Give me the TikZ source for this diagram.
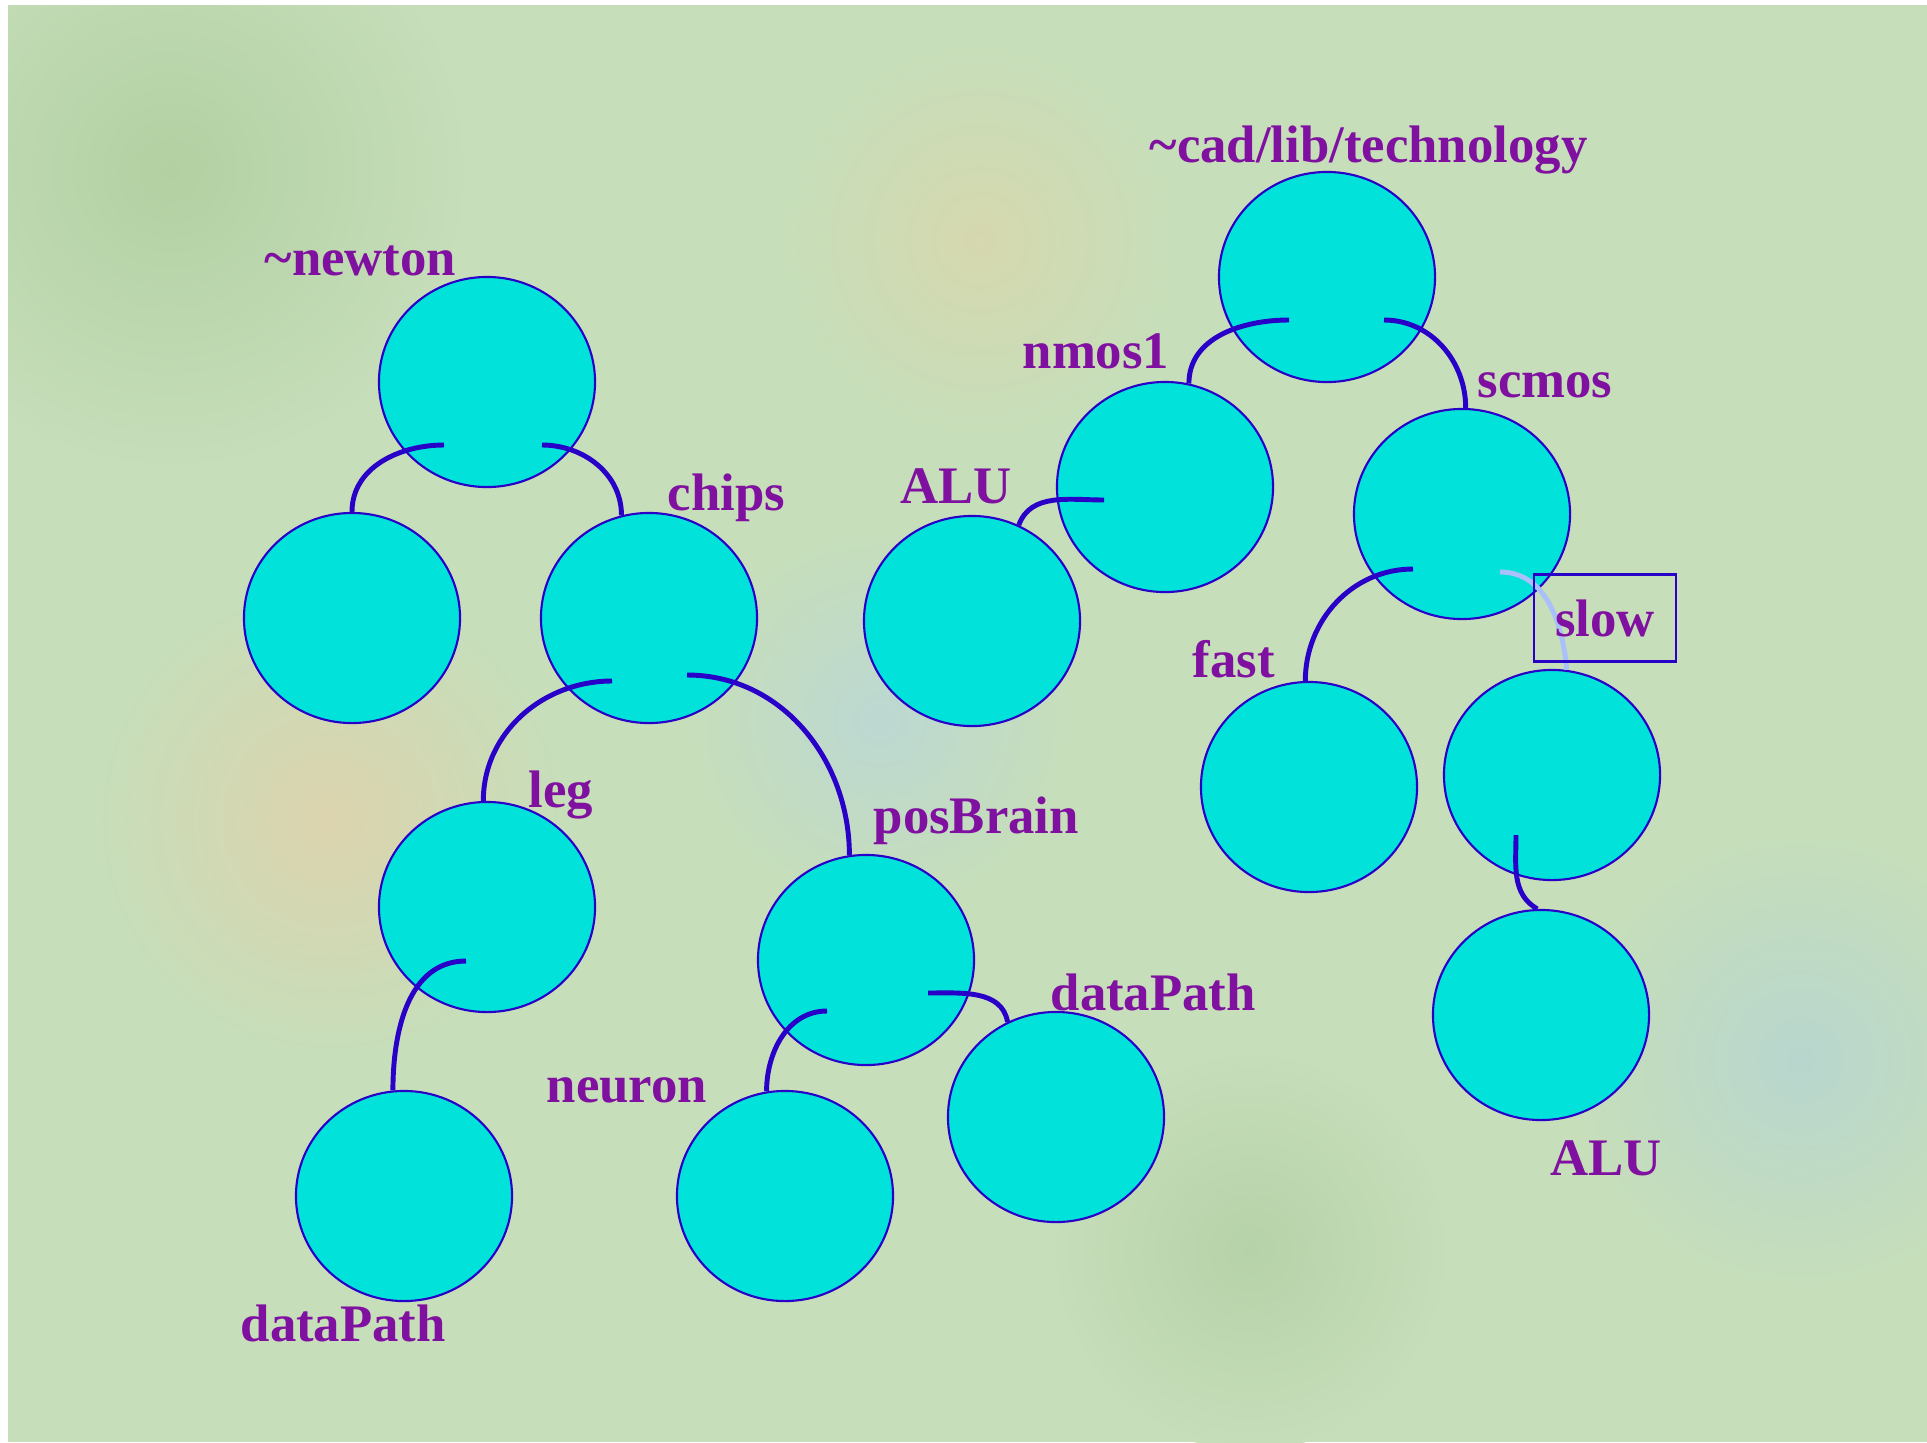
\documentclass[tikz,border=0pt]{standalone}
\usepackage{fontspec}
\setmainfont{Liberation Serif}
\usetikzlibrary{shapes.geometric}
\definecolor{dircyan}{RGB}{0,226,218}
\definecolor{dirblue}{RGB}{40,0,200}
\definecolor{lblpurple}{RGB}{128,16,160}
\definecolor{paleblue}{RGB}{170,192,250}
\definecolor{bggreen}{RGB}{198,222,186}
\begin{document}
\begin{tikzpicture}[x=0.01cm, y=-0.01cm,
  dir/.style={ellipse, draw=dirblue, fill=dircyan, line width=0.6pt,
              minimum width=2.16cm, minimum height=2.10cm, inner sep=0pt},
  link/.style={draw=dirblue, line width=1.4pt},
  lbl/.style={anchor=base west, text=lblpurple, inner sep=0pt,
              font=\fontsize{15}{18}\selectfont\bfseries}]
\useasboundingbox (0,0) rectangle (1927,1442);
% background
\fill[bggreen] (8,5) rectangle (1927,1442);
\begin{scope}
\clip (8,5) rectangle (1927,1442);
\shade[inner color={rgb,255:red,178;green,208;blue,162}, outer color=bggreen] (170,170) circle (300);
\shade[inner color={rgb,255:red,220;green,212;blue,174}, outer color=bggreen] (330,820) circle (240);
\shade[inner color={rgb,255:red,214;green,216;blue,174}, outer color=bggreen] (980,240) circle (200);
\shade[inner color={rgb,255:red,188;green,216;blue,210}, outer color=bggreen] (880,720) circle (190);
\shade[inner color={rgb,255:red,184;green,214;blue,206}, outer color=bggreen] (1800,1060) circle (230);
\shade[inner color={rgb,255:red,182;green,210;blue,168}, outer color=bggreen] (1250,1250) circle (200);
\end{scope}
% ~newton tree
\node[dir] (newton)  at (487,382)  {};
\node[dir] (other)   at (352,618)  {};
\node[dir] (chips)   at (649,618)  {};
\node[dir] (leg)     at (487,907)  {};
\node[dir] (legdp)   at (404,1196) {};
\node[dir] (brain)   at (866,960)  {};
\node[dir] (neuron)  at (785,1196) {};
\node[dir] (braindp) at (1056,1117){};
% ~cad tree
\node[dir] (cad)     at (1327,277) {};
\node[dir] (nmos)    at (1165,487) {};
\node[dir] (nalu)    at (972,621)  {};
\node[dir] (scmos)   at (1462,514) {};
\node[dir] (fast)    at (1309,787) {};
\node[dir] (slow)    at (1552,775) {};
\node[dir] (salu)    at (1541,1015){};
% links
\draw[link] ([shift={(-43,63)}]newton.center) to[out=180,in=90]  (other.north);
\draw[link] ([shift={(55,63)}]newton.center)  to[out=0,in=90]    (chips.105);
\draw[link] ([shift={(-37,63)}]chips.center)  to[out=180,in=90]  (leg.92);
\draw[link] ([shift={(38,57)}]chips.center)   to[out=0,in=90]    (brain.99);
\draw[link] ([shift={(-21,54)}]leg.center)    to[out=180,in=90]  (legdp.96);
\draw[link] ([shift={(-39,51)}]brain.center)  to[out=180,in=90]  (neuron.100);
\draw[link] ([shift={(62,33)}]brain.center)   to[out=0,in=100]   (braindp.117);
\draw[link] ([shift={(-38,43)}]cad.center)    to[out=180,in=90]  (nmos.77);
\draw[link] ([shift={(57,43)}]cad.center)     to[out=0,in=90]    (scmos.88);
\draw[link] ([shift={(-61,13)}]nmos.center)   to[out=180,in=70]  (nalu.64);
\draw[link] ([shift={(-49,55)}]scmos.center)  to[out=180,in=90]  (fast.92);
\draw[link, draw=paleblue] ([shift={(38,58)}]scmos.center) to[out=0,in=95] (slow.82);
\draw[link] ([shift={(-36,60)}]slow.center)   to[out=-90,in=150] (salu.92);
% labels
\node[lbl] (newtonlbl)  at (264,275)  {\textasciitilde newton};
\node[lbl] (chipslbl)   at (667,510)  {chips};
\node[lbl] (leglbl)     at (528,807)  {leg};
\node[lbl] (brainlbl)   at (873,833)  {posBrain};
\node[lbl] (legdplbl)   at (240,1341) {dataPath};
\node[lbl] (neuronlbl)  at (546,1102) {neuron};
\node[lbl] (braindplbl) at (1050,1010){dataPath};
\node[lbl] (cadlbl)     at (1149,162) {\textasciitilde cad/lib/technology};
\node[lbl] (nmoslbl)    at (1022,368) {nmos1};
\node[lbl] (scmoslbl)   at (1477,397) {scmos};
\node[lbl] (nalulbl)    at (900,503)  {ALU};
\node[lbl] (fastlbl)    at (1192,677) {fast};
\node[lbl] (salulbl)    at (1550,1175){ALU};
\node[lbl, anchor=center, draw=dirblue, line width=0.6pt,
      minimum width=1.42cm, minimum height=0.87cm] (slowlbl) at (1605,618) {slow};
\end{tikzpicture}
\end{document}
